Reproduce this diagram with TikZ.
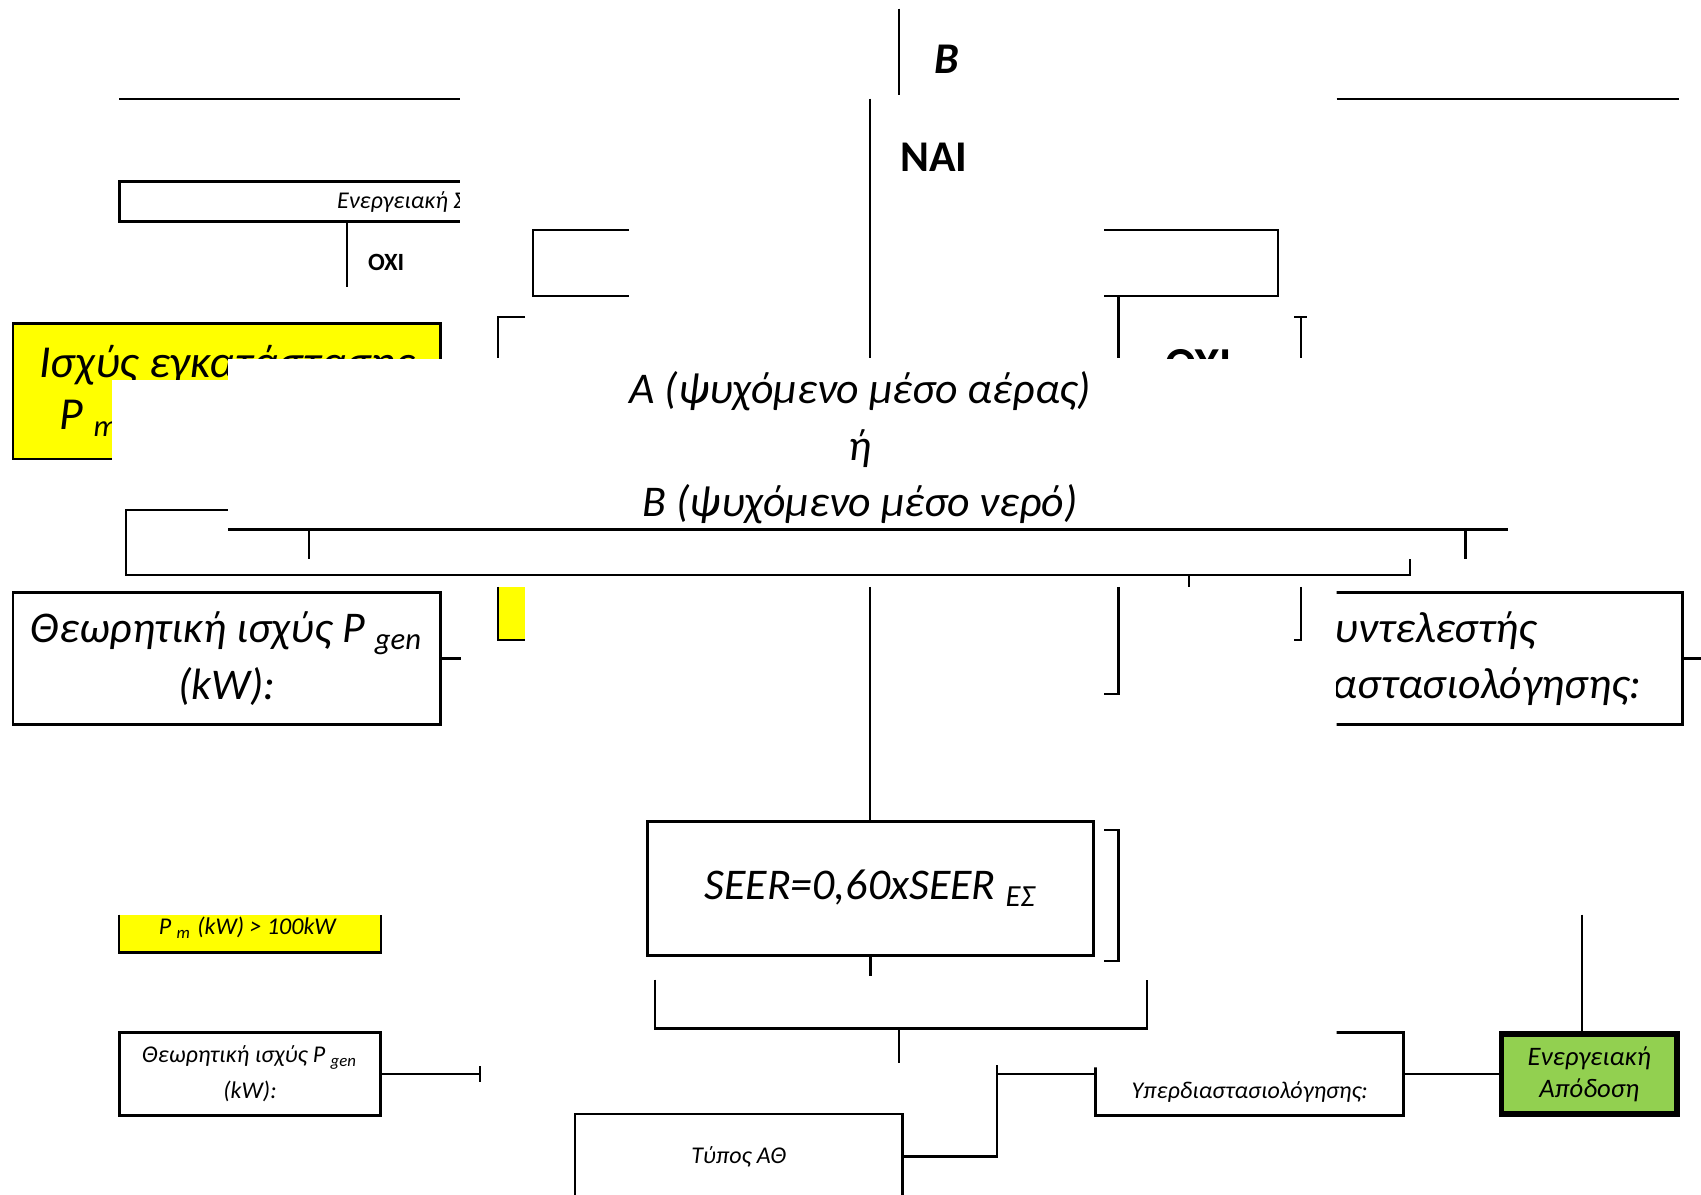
\documentclass[tikz,border=0pt]{standalone}
\usepackage{fontspec}
\setmainfont{Carlito}
\definecolor{boxyellow}{RGB}{255,255,0}
\definecolor{boxgreen}{RGB}{146,208,80}
\usetikzlibrary{positioning}

\begin{document}
\begin{tikzpicture}[x=0.1mm, y=-0.1mm, line width=0.6pt,
  bigtext/.style={font=\fontsize{11.5}{14.8}\selectfont\itshape, align=center},
  smalltext/.style={font=\fontsize{6.3}{9.4}\selectfont\itshape, align=center},
  answer/.style={font=\fontsize{6.5}{8}\selectfont\bfseries},
  box/.style={draw, line width=0.7pt, inner sep=0pt, align=center}]
  \useasboundingbox (0,0) rectangle (1568,1101);
  \clip (0,0) rectangle (1568,1101);

  % Top strip
  \draw (829,8) -- (829,88);
  \node[font=\fontsize{11.5}{14}\selectfont\bfseries\itshape] (labelB) at (873,55) {B};
  \draw (110,91) -- (424,91);
  \draw (1232,91) -- (1548,91);
  \draw (802,91) -- (802,330);
  \node[font=\fontsize{11.5}{14}\selectfont\bfseries] (yes) at (861,145) {NAI};

  % Energy label box (cut on the right)
  \begin{scope}
    \clip (100,150) rectangle (424,215);
    \node[box, minimum width=40mm, minimum height=3.7mm] (label) at (310,185.5) {};
    \node[smalltext, anchor=west] (labeltext) at (298,186) {Ενεργειακή Σ};
  \end{scope}
  \draw (320,204) -- (320,265);
  \node[answer] (no1) at (356,242) {OXI};

  % Brackets under the top strip
  \draw (580,212) -- (491,212) -- (491,273) -- (580,273);
  \draw (1018,212) -- (1178,212) -- (1178,273) -- (1018,273);
  \draw (1031,273) -- (1031,330);
  \draw (484,292) -- (459,292) -- (459,330);
  \draw (1193,292) -- (1205,292);
  \draw (1199,292) -- (1199,330);
  \node[font=\fontsize{12}{14}\selectfont\bfseries] (no2) at (1105,336) {OXI};

  % Installed power
  \node[box, fill=boxyellow, minimum width=39.4mm, minimum height=12.5mm,
        font=\fontsize{12}{13.7}\selectfont\itshape] (power) at (209,360.5)
        {Ισχύς εγκατάστασης\\P \textsubscript{m} (kW) > 100kW};

  % White band over the middle
  \fill[white] (210,331) rectangle (1240,487);
  \fill[white] (103,350) rectangle (211,440);
  \node[bigtext] (medium) at (793,413)
        {Α (ψυχόμενο μέσο αέρας)\\ή\\Β (ψυχόμενο μέσο νερό)};

  \draw (210,488) -- (1390,488);
  \draw (285,488) -- (285,515);
  \draw (1351,488) -- (1351,515);
  \draw (210,470) -- (116,470) -- (116,530) -- (1300,530) -- (1300,515);
  \draw (1096,530) -- (1096,541);

  % Middle row
  \fill[boxyellow] (459,541) rectangle (484,590);
  \draw (459,541) -- (459,590) -- (484,590);
  \node[box, minimum width=39.4mm, minimum height=12.2mm, bigtext] (pgen) at (209,607)
        {Θεωρητική ισχύς P \textsubscript{gen}\\(kW):};
  \draw (pgen.east) -- ++(18,0);
  \draw (1031,541) -- (1031,640) -- (1018,640);
  \draw (1199,541) -- (1199,590) -- (1193,590);
  \begin{scope}
    \clip (1232,530) rectangle (1568,680);
    \node[box, minimum width=47.4mm, minimum height=12.2mm, bigtext] (oversize) at (1314,607)
          {Συντελεστής\\Υπερδιαστασιολόγησης:};
  \end{scope}
  \draw (oversize.east) -- ++(17,0);

  % SEER
  \node[box, minimum width=41.1mm, minimum height=12.4mm,
        font=\fontsize{11.5}{14}\selectfont\itshape] (seer) at (802.5,819)
        {SEER=0,60xSEER \textsubscript{ΕΣ}};
  \coordinate (seerin) at (802,541);
  \draw (seerin) -- (seerin |- seer.north);
  \draw (1018,765) -- (1031,765) -- (1031,886) -- (1018,886);
  \draw (seer.south) -- ++(0,17);
  \draw (604,903) -- (604,948) -- (1057,948) -- (1057,903);
  \draw (829,948) -- (829,980);

  % Bottom left
  \fill[boxyellow] (110,843) rectangle (351,878);
  \draw (110,843) -- (110,878) -- (351,878) -- (351,843);
  \node[smalltext] (powersmall) at (228,855) {P \textsubscript{m} (kW) > 100kW};
  \node[box, minimum width=24.1mm, minimum height=7.6mm, smalltext] (pgensmall) at (230.5,990)
        {Θεωρητική ισχύς P \textsubscript{gen}\\(kW):};
  \draw (pgensmall.east) -- ++(90,0) coordinate (pgenend);
  \draw ([yshift=0.7mm]pgenend) -- ([yshift=-0.7mm]pgenend);

  % Bottom right
  \node[box, minimum width=30.2mm, minimum height=7.8mm, smalltext] (hptype) at (681,1066) {Τύπος ΑΘ};
  \coordinate (turn) at (919,1066);
  \coordinate (turntop) at (919,982);
  \draw (hptype.east) -- (turn) -- (turntop);
  \begin{scope}
    \clip (1000,984) -- (1232,984) -- (1232,940) -- (1310,940) -- (1310,1040) -- (1000,1040) -- cycle;
    \node[box, minimum width=28.4mm, minimum height=7.6mm, smalltext] (oversmall) at (1152,990)
          {Συντελεστής\\Υπερδιαστασιολόγησης:};
  \end{scope}
  \draw (919,990) -- (oversmall.west);
  \node[draw, line width=1.4pt, fill=boxgreen, minimum width=16.2mm, minimum height=7.2mm,
        font=\fontsize{7}{8.3}\selectfont\itshape, align=center] (eff) at (1465,990)
        {Ενεργειακή\\Απόδοση};
  \draw (oversmall.east) -- (eff.west);
  \coordinate (efftop) at (1458,843);
  \draw (efftop) -- (efftop |- eff.north);
\end{tikzpicture}
\end{document}
